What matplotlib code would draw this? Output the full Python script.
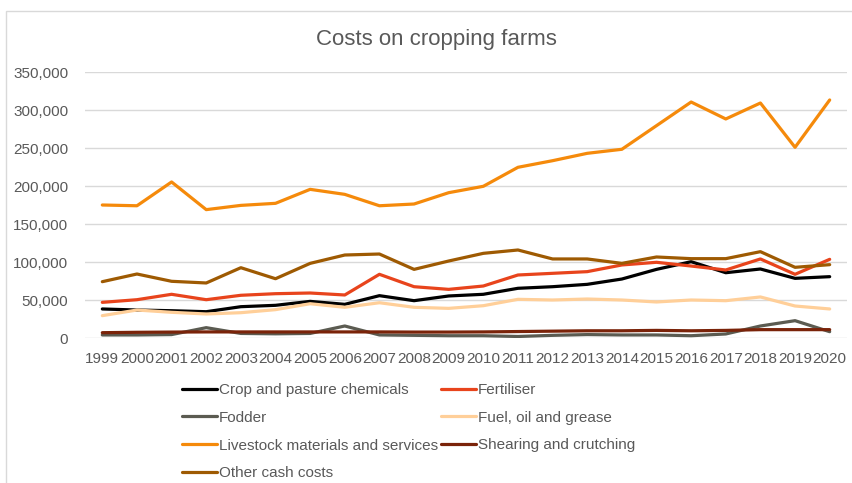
import matplotlib
matplotlib.use('Agg')
import matplotlib.pyplot as plt
from matplotlib.ticker import FuncFormatter
from matplotlib.patches import Rectangle

plt.rcParams['font.family'] = ['Liberation Sans', 'DejaVu Sans']

years = [str(y) for y in range(1999, 2021)]

crop_chem = [38200, 36800, 35900, 34600, 41200, 43000, 48200, 44300, 55700, 49100, 55300,
             57500, 65400, 67500, 70600, 77600, 90300, 100400, 85900, 90800, 78500, 80700]
fertiliser = [46900, 50400, 57500, 50400, 56200, 58300, 59200, 56600, 83800, 67500, 64000,
              68400, 82900, 85100, 87300, 96100, 99600, 94700, 89500, 104000, 83800, 103500]
fodder = [4000, 4000, 4500, 13600, 6000, 5500, 6000, 15800, 4000, 3500, 3000,
          3000, 2000, 3500, 4500, 4000, 4000, 3000, 5300, 15800, 22800, 8300]
fuel = [29400, 36800, 33800, 31600, 33300, 37300, 45100, 40400, 46400, 40400, 39000,
        42500, 50900, 50000, 51300, 50000, 47400, 50000, 49100, 54000, 42100, 38200]
livestock = [175000, 174000, 205300, 168900, 174500, 177200, 195600, 189000, 174000, 176300, 191200,
             199600, 224600, 233300, 243000, 248300, 279400, 310500, 288200, 309200, 250900, 313200]
shearing = [7000, 7500, 7800, 8000, 8000, 8000, 8000, 8000, 8000, 7800, 7800,
            8000, 8500, 9000, 9500, 9500, 10000, 9500, 10000, 11000, 11000, 11000]
other = [74100, 84200, 74600, 72400, 92500, 78000, 98200, 109200, 110500, 90300, 101300,
         111400, 115800, 104000, 104000, 98200, 106600, 104400, 104400, 113600, 93000, 96500]

names = ['Crop and pasture chemicals', 'Fertiliser', 'Fodder', 'Fuel, oil and grease',
         'Livestock materials and services', 'Shearing and crutching', 'Other cash costs']
series = [crop_chem, fertiliser, fodder, fuel, livestock, shearing, other]
colors = ['#000000', '#E8441C', '#5B5B51', '#FFCF99', '#F58A0B', '#7A2309', '#9E5A02']

grey = '#595959'
fig = plt.figure(figsize=(8.53, 4.83), dpi=100)
# light chart border (left and top visible in the crop)
fig.patches.append(Rectangle((6 / 853, -0.1), 2, 1.1 - 11 / 483, transform=fig.transFigure,
                             fill=False, edgecolor='#d9d9d9', linewidth=1))
ax = fig.add_axes([85 / 853, 1 - 338 / 483, 762 / 853, 266 / 483])

x = list(range(len(years)))
lines = []
for vals, name, c in zip(series, names, colors):
    ln, = ax.plot(x, vals, color=c, linewidth=2.3, label=name, solid_capstyle='round',
                  solid_joinstyle='round', zorder=3)
    lines.append(ln)

ax.set_xlim(-0.5, len(years) - 0.5)
ax.set_ylim(0, 350000)
ax.set_yticks(range(0, 350001, 50000))
ax.yaxis.set_major_formatter(FuncFormatter(lambda v, p: f'{int(v):,}'))
ax.set_xticks(x)
ax.set_xticklabels(years)
ax.grid(axis='y', color='#d9d9d9', linewidth=1, zorder=0)
for s in ax.spines.values():
    s.set_visible(False)
ax.tick_params(axis='both', length=0, labelsize=11, labelcolor=grey)
ax.tick_params(axis='y', pad=12)
ax.tick_params(axis='x', pad=10)

fig.text(436 / 853, 1 - 39 / 483, 'Costs on cropping farms', ha='center', va='center',
         fontsize=16, color=grey)

# row-major legend order like the original
order = [0, 2, 4, 6, 1, 3, 5]
leg = fig.legend([lines[i] for i in order], [names[i] for i in order], ncol=2,
                 loc='upper left', bbox_to_anchor=(182 / 853, 1 - 383 / 483),
                 frameon=False, fontsize=11, handlelength=2.3, handletextpad=0.1,
                 columnspacing=0.2, labelspacing=0.9, borderpad=0, borderaxespad=0)
for t in leg.get_texts():
    t.set_color(grey)

fig.savefig('out.png', dpi=100)
